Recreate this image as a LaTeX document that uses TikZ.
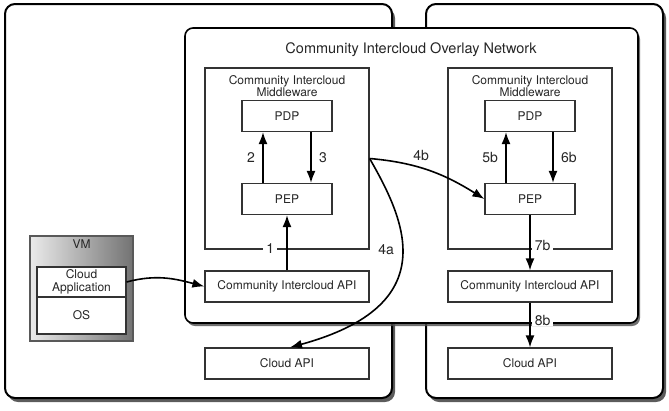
\documentclass[tikz,border=0pt]{standalone}
\usepackage{fontspec}
\setmainfont{TeX Gyre Heros}
\usepackage{tikz}
\usetikzlibrary{arrows.meta,shadows}
\tikzset{
  cloudbox/.style   = {draw=black, line width=2pt, rounded corners=10pt, fill=white,
                       drop shadow={shadow xshift=3pt, shadow yshift=-4pt, fill=black!75, opacity=0.85}},
  overlaybox/.style = {draw=black, line width=1.6pt, rounded corners=8pt, fill=white,
                       drop shadow={shadow xshift=2pt, shadow yshift=-3pt, fill=black!70, opacity=0.8}},
  blk/.style        = {draw=black!80, line width=1.2pt, fill=white, inner sep=0pt,
                       text=black!85, font=\fontsize{12}{13.5}\selectfont},
  mw/.style         = {blk, minimum width=164pt, minimum height=181pt},
  wide/.style       = {blk, minimum width=164pt, minimum height=31pt},
  pdp/.style        = {blk, minimum width=90pt, minimum height=31pt},
  vm/.style         = {draw=black!65, line width=1.5pt, left color=black!8, right color=black!55},
  txt/.style        = {text=black!85, inner sep=0pt, font=\fontsize{12}{13.5}\selectfont, align=center},
  flow/.style       = {-{Latex[length=12pt,width=9pt]}, line width=1.6pt},
  num/.style        = {text=black!85, font=\fontsize{14}{16}\selectfont},
  onln/.style       = {num, fill=white, inner xsep=3pt, inner ysep=1pt},
}

\begin{document}
\begin{tikzpicture}[x=1pt, y=-1pt]
  \useasboundingbox (0,0) rectangle (669,410);

  \draw[cloudbox] (5,4) rectangle (392,398);
  \draw[cloudbox] (426,4) rectangle (663,398);
  \draw[overlaybox] (185,28) rectangle (638,323);
  \node[txt, font=\fontsize{14.5}{16}\selectfont] (title) at (411,50) {Community Intercloud Overlay Network};

  \node[mw] (mwL) at (287,158.5) {};
  \node[txt] (mwLt) at (287,86) {Community Intercloud\\[-2pt]Middleware};
  \node[pdp] (pdpL) at (287,116) {PDP};
  \node[pdp] (pepL) at (287,199) {PEP};
  \node[wide] (apiL) at (287,286.5) {Community Intercloud API};
  \node[wide] (cloudL) at (287,363.5) {Cloud API};

  \node[mw] (mwR) at (530,158.5) {};
  \node[txt] (mwRt) at (530,86) {Community Intercloud\\[-2pt]Middleware};
  \node[pdp] (pdpR) at (530,116) {PDP};
  \node[pdp] (pepR) at (530,199) {PEP};
  \node[wide] (apiR) at (530,286.5) {Community Intercloud API};
  \node[wide] (cloudR) at (530,363.5) {Cloud API};

  \draw[vm] (30,236) rectangle (133,341);
  \node[txt] (vmt) at (81.5,244) {VM};
  \node[blk, minimum width=89pt, minimum height=30pt, align=center,
        font=\fontsize{12}{12.5}\selectfont] (app) at (81.5,282) {Cloud\\Application};
  \node[blk, minimum width=89pt, minimum height=37pt] (os) at (81.5,315.5) {OS};

  \draw[flow] (app.east) to[out=15, in=165] (apiL.west);
  \draw[flow] (apiL.north) -- node[pos=0.39, left=9pt, onln] {1} (pepL.south);
  \draw[flow] ([xshift=-24pt]pepL.north) -- node[left=4pt, num] {2} ([xshift=-24pt]pdpL.south);
  \draw[flow] ([xshift=24pt]pdpL.south) -- node[right=4pt, num] {3} ([xshift=24pt]pepL.north);
  \draw[flow] (mwL.east) to[out=-5, in=148] node[pos=0.42, above=3pt, num] {4b} (pepR.west);
  \draw[flow] (mwL.east) .. controls (405,220) and (445,305) .. node[pos=0.45, left=4pt, num] {4a}
              ([xshift=3pt]cloudL.north);
  \draw[flow] ([xshift=-24pt]pepR.north) -- node[left=4pt, num] {5b} ([xshift=-24pt]pdpR.south);
  \draw[flow] ([xshift=23pt]pdpR.south) -- node[right=4pt, num] {6b} ([xshift=23pt]pepR.north);
  \draw[flow] (pepR.south) -- node[pos=0.55, right=1pt, onln] {7b} (apiR.north);
  \draw[flow] (apiR.south) -- node[pos=0.39, right=1pt, onln] {8b} (cloudR.north);
\end{tikzpicture}
\end{document}
